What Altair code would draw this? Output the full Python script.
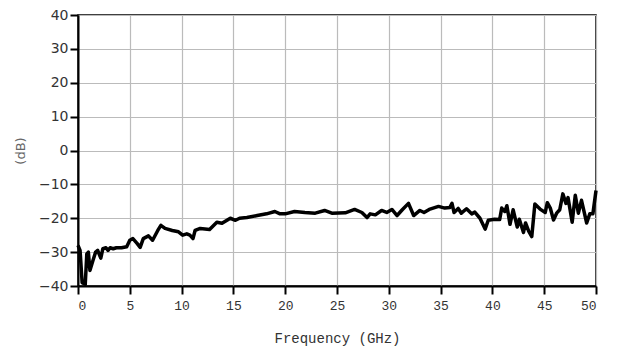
import altair as alt
import pandas as pd

freq_ghz = [0, 0.2, 0.4, 0.7, 0.85, 1.0, 1.15, 1.45, 1.7, 1.9, 2.2, 2.4, 2.7, 2.9, 3.1, 3.4, 3.7, 4.2, 4.7,
            5.0, 5.3, 5.7, 6.0, 6.3, 6.8, 7.2, 7.7, 8.0, 8.4, 9.1, 9.7, 10.1, 10.5, 10.8, 11.1, 11.3, 11.8,
            12.7, 13.4, 13.9, 14.7, 15.2, 15.6, 16.3, 17.3, 18.2, 19.0, 19.5, 20.0, 20.9, 21.9, 22.9, 23.8,
            24.5, 25.8, 26.7, 27.4, 27.9, 28.2, 28.7, 29.3, 29.8, 30.3, 30.8, 31.3, 31.9, 32.4, 33.0, 33.4,
            33.9, 34.8, 35.4, 35.9, 36.1, 36.3, 36.7, 37.0, 37.5, 38.0, 38.3, 38.8, 39.3, 39.6, 40.2, 40.7,
            40.9, 41.2, 41.4, 41.7, 42.0, 42.4, 42.6, 43.0, 43.2, 43.5, 43.8, 44.1, 44.6, 45.1, 45.3, 45.6,
            45.9, 46.2, 46.5, 46.8, 47.1, 47.3, 47.7, 48.0, 48.3, 48.6, 49.1, 49.4, 49.7, 50.0]
level_db = [-28, -29.5, -39, -39.5, -30.5, -30, -35.4, -32.4, -30, -29.5, -31.8, -29, -28.7, -29.5, -28.7, -29,
            -28.7, -28.7, -28.4, -26.5, -26, -27.4, -28.6, -26, -25.2, -26.5, -23.6, -22.1, -23, -23.6, -24,
            -25, -24.6, -25, -26, -23.6, -23, -23.3, -21.2, -21.5, -20, -20.6, -20, -19.8, -19.2, -18.7, -18,
            -18.7, -18.7, -18, -18.3, -18.5, -17.7, -18.5, -18.4, -17.4, -18.3, -19.8, -18.7, -19, -17.7,
            -18.3, -17.4, -19.2, -17.5, -15.6, -19.2, -17.7, -18.3, -17.4, -16.5, -17, -16.8, -15.6, -18.3,
            -17.1, -18.5, -17.2, -18.7, -18.2, -20, -23.2, -20.6, -20.3, -20.4, -17, -18, -16.3, -21.8, -17.5,
            -22.6, -20.3, -24.2, -21.4, -23.8, -25.4, -15.8, -17.3, -18.3, -15.4, -17.1, -20.5, -18.5, -17.5,
            -12.8, -15.6, -13.9, -21.2, -13.2, -18.5, -14.7, -21.4, -18.7, -18.7, -11.8]

x_ticks = list(range(0, 51, 5))
y_ticks = list(range(-40, 41, 10))

df = pd.DataFrame({"f": freq_ghz, "db": level_db})

chart = alt.Chart(df).mark_line(color="black", strokeWidth=3.5, strokeJoin="round").encode(
    x=alt.X("f:Q", scale=alt.Scale(domain=[0, 50], nice=False, zero=False),
            axis=alt.Axis(values=x_ticks, title="Frequency (GHz)", labelFont="Liberation Mono",
                          titleFont="Liberation Mono", labelFontSize=13, titleFontSize=14,
                          titleFontWeight="normal", labelColor="#333", titleColor="#333",
                          titlePadding=19, labelPadding=5)),
    y=alt.Y("db:Q", scale=alt.Scale(domain=[-40, 40], nice=False, zero=False),
            axis=alt.Axis(values=y_ticks, title="(dB)", labelFont="DejaVu Sans",
                          titleFont="DejaVu Sans", labelFontSize=14, titleFontSize=13,
                          titleFontWeight="normal", labelColor="#333", titleColor="#666",
                          titlePadding=11, labelPadding=2)),
).properties(
    width=518, height=271,
    autosize=alt.AutoSizeParams(type="none"),
    padding={"left": 78, "top": 15, "right": 21, "bottom": 63},
).configure_axis(
    grid=True, gridColor="#bbbbbb", gridWidth=1.2,
    domainColor="black", domainWidth=2, tickColor="black", tickWidth=2, tickSize=8,
).configure_view(stroke="black", strokeWidth=1.5)

chart.save("out.html", embed_options={"renderer": "svg", "actions": False})
